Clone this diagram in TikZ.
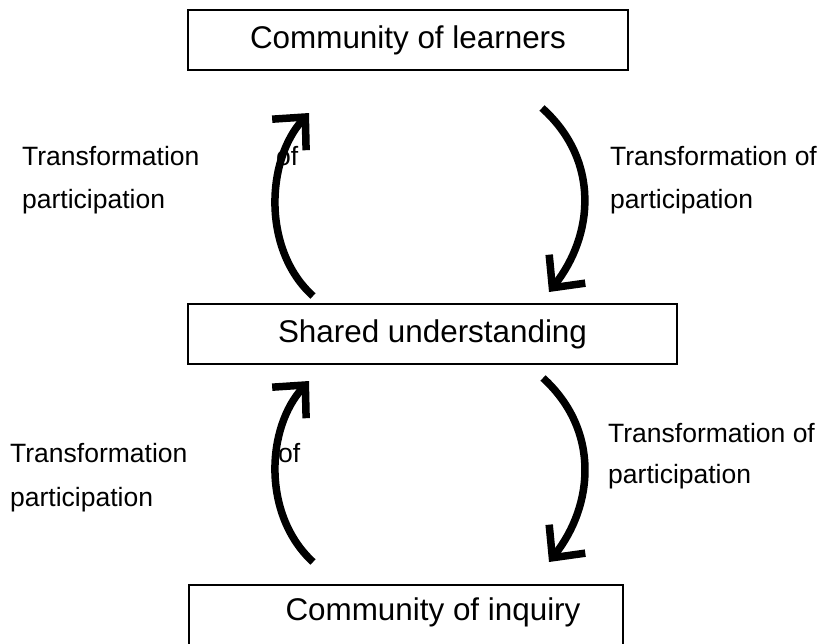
\documentclass[tikz,border=0pt]{standalone}
\usepackage{fontspec}
\setmainfont{Liberation Sans}
\usetikzlibrary{arrows.meta}
\begin{document}
\begin{tikzpicture}[x=1pt,y=-1pt,
  box/.style={draw, line width=1.5pt, rectangle, inner sep=0pt, font=\fontsize{31.4}{38}\selectfont},
  lbl/.style={anchor=base west, inner sep=0pt, font=\fontsize{26.5}{32}\selectfont},
  flow/.style={line width=7.5pt, -{Straight Barb[length=24pt,width=46pt]}}]
\useasboundingbox (0,0) rectangle (819,643);
\begin{scope}
\clip (0,0) rectangle (819,643);
% boxes
\node[box, minimum width=440pt, minimum height=60pt] (learners) at (408,40) {Community of learners};
\node[box, minimum width=489pt, minimum height=60pt] (shared) at (432.5,334) {Shared understanding};
\node[box, minimum width=434pt, minimum height=80pt, anchor=north west] (inquiry) at (188,584) {};
\node[anchor=base, inner sep=0pt, font=\fontsize{31.4}{38}\selectfont] (inqtext) at (433,620) {Community of inquiry};
\end{scope}
% arrow end points
\coordinate (a1s) at (313,296);
\coordinate (a1e) at (309,113);
\coordinate (a2s) at (542,108);
\coordinate (a2e) at (549,292);
\coordinate (a3s) at (313,562);
\coordinate (a3e) at (309,381);
\coordinate (a4s) at (543,378);
\coordinate (a4e) at (549,562);
% arrows
\draw[flow] (a1s) .. controls (262,250) and (266,160) .. (a1e);
\draw[flow] (a2s) .. controls (600,160) and (594,235) .. (a2e);
\draw[flow] (a3s) .. controls (262,515) and (266,428) .. (a3e);
\draw[flow] (a4s) .. controls (600,430) and (594,505) .. (a4e);
% labels
\node[lbl] (l1a) at (22,165) {Transformation};
\node[lbl] (l1b) at (276,165) {of};
\node[lbl] (l1c) at (22,208) {participation};
\node[lbl] (l2a) at (610,165) {Transformation of};
\node[lbl] (l2c) at (610,208) {participation};
\node[lbl] (l3a) at (10,462) {Transformation};
\node[lbl] (l3b) at (278,462) {of};
\node[lbl] (l3c) at (10,506) {participation};
\node[lbl] (l4a) at (608,442) {Transformation of};
\node[lbl] (l4c) at (608,483) {participation};
\end{tikzpicture}
\end{document}
